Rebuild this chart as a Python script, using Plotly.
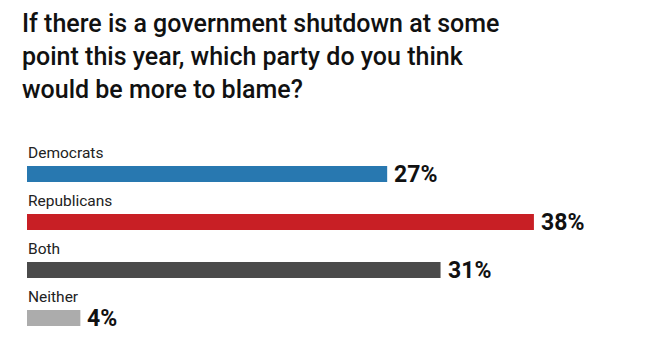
import plotly.graph_objects as go

categories = ["Democrats", "Republicans", "Both", "Neither"]
values = [27, 38, 31, 4]
value_labels = ["27%", "38%", "31%", "4%"]
colors = ["#2878b0", "#c81f25", "#4a4a4a", "#acacac"]
title_lines = ["If there is a government shutdown at some",
               "point this year, which party do you think",
               "would be more to blame?"]

FONT = "Roboto"
pos = list(range(len(categories)))

fig = go.Figure(go.Bar(
    x=values, y=pos, orientation="h",
    marker=dict(color=colors, line=dict(width=0)),
    width=1/3, hoverinfo="skip",
))

ann = []
for i, (c, v, lab) in enumerate(zip(categories, values, value_labels)):
    ann.append(dict(x=0, y=i, xref="x", yref="y", text=c, showarrow=False,
                    xanchor="left", yanchor="middle", yshift=21, borderpad=0,
                    font=dict(family=FONT, size=15.5, color="#222")))
    ann.append(dict(x=v, y=i, xref="x", yref="y", text=lab, showarrow=False,
                    xanchor="left", yanchor="middle", xshift=6, borderpad=0,
                    font=dict(family=FONT, size=23, color="#111", weight=700)))

# title lines placed in paper coords (plot area spans 150..342 px)
for k, line in enumerate(title_lines):
    yc = 23 + 33 * k
    ann.append(dict(x=-6/621, y=(342 - yc)/192, xref="paper", yref="paper",
                    text=line, showarrow=False, xanchor="left", yanchor="middle",
                    borderpad=0,
                    font=dict(family=FONT, size=25, color="#111", weight=500)))

fig.update_layout(
    width=648, height=351,
    margin=dict(l=27, r=0, t=150, b=9),
    paper_bgcolor="white", plot_bgcolor="white",
    showlegend=False,
    xaxis=dict(range=[0, 621/13.34], visible=False, fixedrange=True),
    yaxis=dict(range=[3.5, -0.5], visible=False, fixedrange=True),
    annotations=ann,
)

fig.write_html("out.html")
